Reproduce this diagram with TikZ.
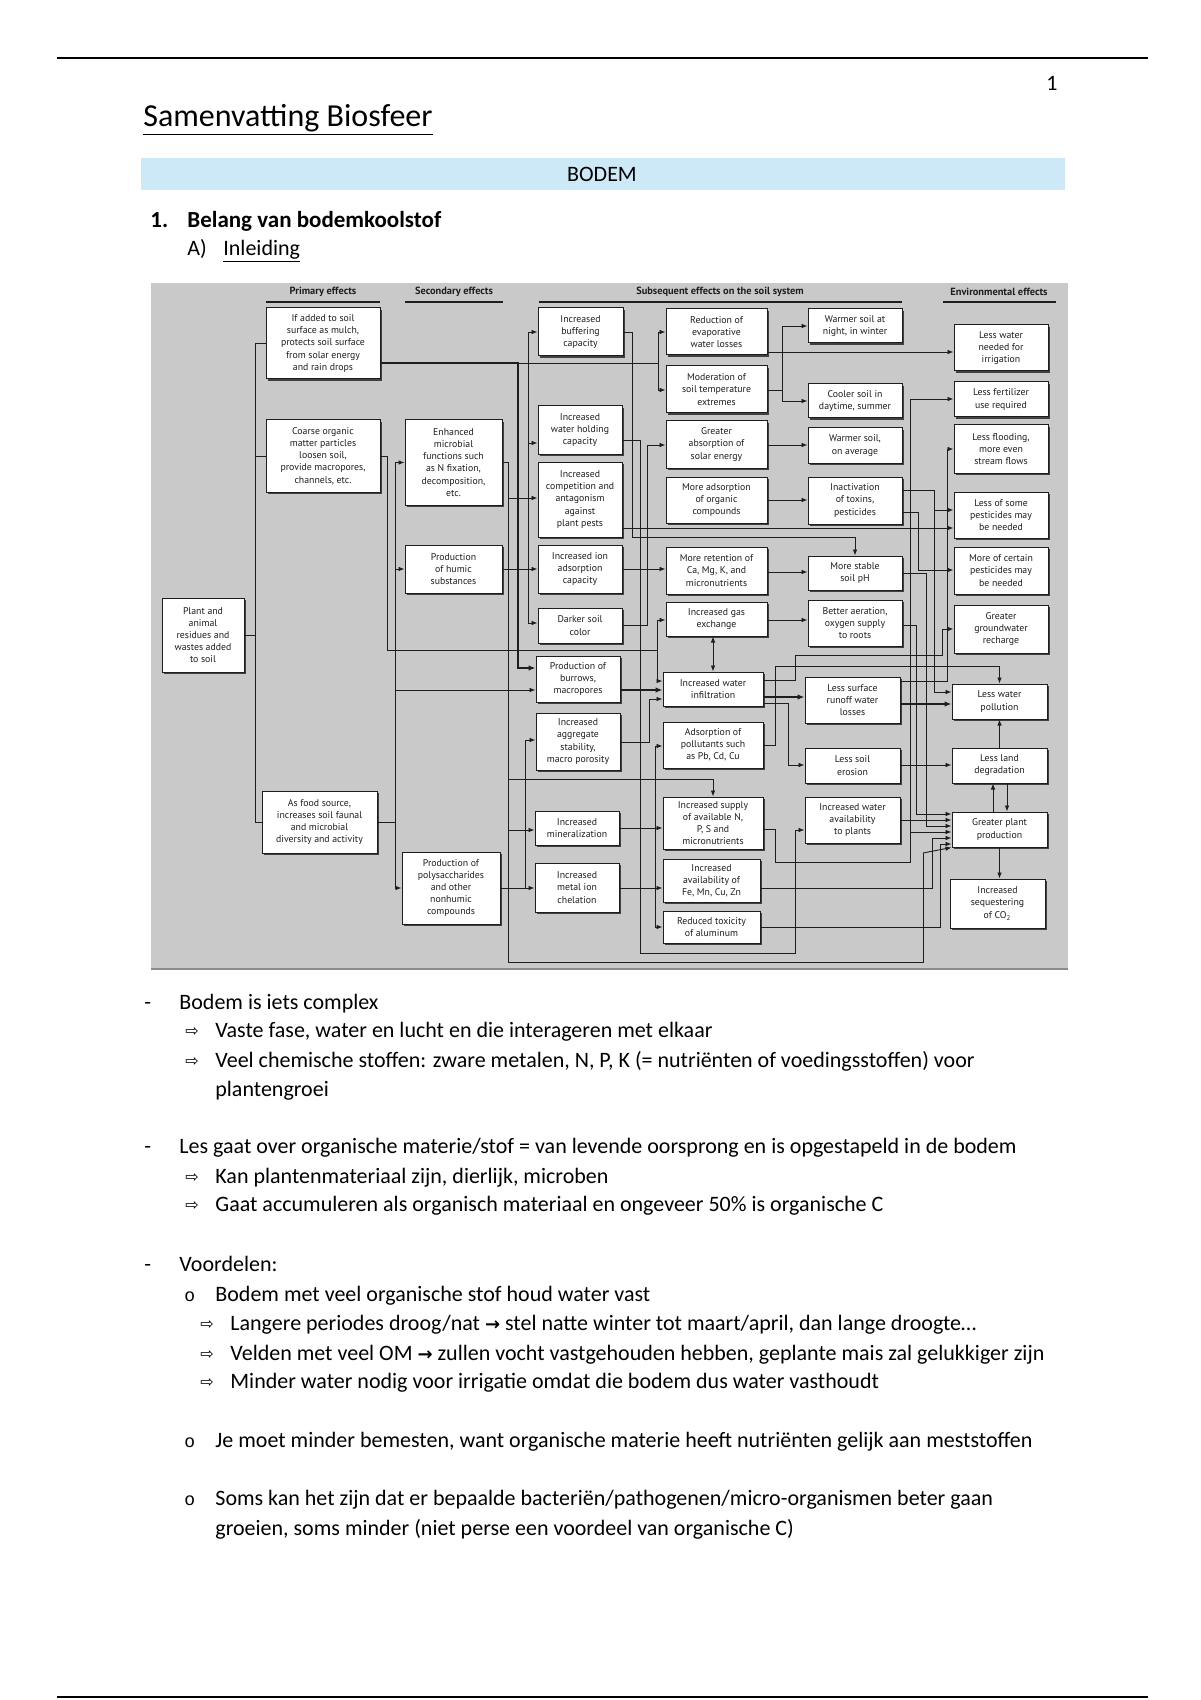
\documentclass[tikz,border=0pt]{standalone}
\usepackage{fontspec}
\setmainfont{Carlito}
\newfontfamily\dg{PT Sans}
\newfontfamily\sym{DejaVu Sans}
\newfontfamily\monof{Liberation Mono}
\usetikzlibrary{arrows.meta,shadows}
\definecolor{bandblue}{RGB}{205,233,247}
\definecolor{diagbg}{RGB}{201,201,201}
\definecolor{ink}{RGB}{30,30,30}
\tikzset{
  box/.style={draw=ink, line width=0.5pt, fill=white, inner sep=0pt, align=center,
    font=\dg\fontsize{4.9}{6.1}\selectfont, text=ink,
    drop shadow={shadow xshift=1.1pt, shadow yshift=-1.1pt, fill=black!75, opacity=1}},
  conn/.style={draw=ink, line width=0.45pt},
  arr/.style={conn, -{Latex[length=3pt,width=2.3pt]}},
  darr/.style={conn, {Latex[length=3pt,width=2.3pt]}-{Latex[length=3pt,width=2.3pt]}},
  thk/.style={draw=ink, line width=1.1pt},
  thkarr/.style={thk, -{Latex[length=3.5pt,width=2.8pt]}},
  hdr/.style={font=\dg\bfseries\fontsize{5.2}{6}\selectfont, text=ink, inner sep=0pt},
  body/.style={anchor=west, font=\fontsize{11}{13}\selectfont, inner sep=0pt, text height=7.5pt, text depth=2.2pt},
  bul/.style={anchor=west, font=\sym\fontsize{8}{10}\selectfont, inner sep=0pt}
}
\newcommand\mybox[6]{\node[box, minimum width={(#4-#2)*0.5pt}, minimum height={(#5-#3)*0.5pt}] (#1) at ({(#2+#4)/2},{(#3+#5)/2}) {#6};}
\begin{document}
\begin{tikzpicture}[x=0.5pt,y=-0.5pt]
\useasboundingbox (0,0) rectangle (1200,1700);
\fill[white] (0,0) rectangle (1200,1700);
% page header
\draw[line width=0.9pt] (57,58) -- (1148,58);
\draw[line width=0.9pt] (57,1697) -- (1148,1697);
\node[font=\fontsize{11}{13}\selectfont] (pnum) at (1052,83) {1};
\node[anchor=west, inner sep=0pt, font=\fontsize{16}{19}\selectfont] (title) at (143,120) {\underline{Samenvatting Biosfeer}};
\fill[bandblue] (141,158) rectangle (1065,190);
\node[font=\fontsize{11}{13}\selectfont] (bodem) at (602,174) {BODEM};
\node[body, font=\bfseries\fontsize{11.5}{13}\selectfont] (h1n) at (150,222) {1.};
\node[body, font=\bfseries\fontsize{11.5}{13}\selectfont] (h1) at (187,222) {Belang van bodemkoolstof};
\node[body] (h2n) at (187,250) {A)};
\node[body] (h2) at (223,250) {\underline{Inleiding}};

% diagram background
\fill[diagbg] (151,283) rectangle (1068,969);
\draw[black!45, line width=1pt] (151,969) -- (1068,969);

% headers
\node[hdr] (hp) at (323,292) {Primary effects};
\draw[ink, line width=0.8pt] (266,302) -- (380,302);
\node[hdr] (hs) at (454,292) {Secondary effects};
\draw[ink, line width=0.8pt] (405,302) -- (503,302);
\node[hdr] (hq) at (720,292) {Subsequent effects on the soil system};
\draw[ink, line width=0.8pt] (539,302) -- (902,302);
\node[hdr] (he) at (999,292) {Environmental effects};
\draw[ink, line width=0.8pt] (943,302) -- (1056,302);

% boxes: left
\mybox{plant}{162}{598}{244}{672}{Plant and\\animal\\residues and\\wastes added\\to soil}
\mybox{mulch}{266}{308}{380}{379}{If added to soil\\surface as mulch,\\protects soil surface\\from solar energy\\and rain drops}
\mybox{coarse}{266}{420}{380}{492}{Coarse organic\\matter particles\\loosen soil,\\provide macropores,\\channels, etc.}
\mybox{food}{262}{791}{377}{853}{As food source,\\increases soil faunal\\and microbial\\diversity and activity}
\mybox{micro}{405}{420}{502}{505}{Enhanced\\microbial\\functions such\\as N fixation,\\decomposition,\\etc.}
\mybox{humic}{405}{545}{502}{593}{Production\\of humic\\substances}
\mybox{poly}{402}{852}{500}{924}{Production of\\polysaccharides\\and other\\nonhumic\\compounds}
% column 1
\mybox{buf}{538}{308}{623}{356}{Increased\\buffering\\capacity}
\mybox{whc}{538}{406}{622}{454}{Increased\\water holding\\capacity}
\mybox{comp}{538}{462}{622}{537}{Increased\\competition and\\antagonism\\against\\plant pests}
\mybox{ion}{538}{545}{622}{593}{Increased ion\\adsorption\\capacity}
\mybox{dark}{538}{608}{622}{643}{Darker soil\\color}
\mybox{burrow}{536}{656}{620}{702}{Production of\\burrows,\\macropores}
\mybox{aggr}{536}{713}{620}{770}{Increased\\aggregate\\stability,\\macro porosity}
\mybox{miner}{535}{811}{619}{845}{Increased\\mineralization}
\mybox{chel}{535}{863}{619}{912}{Increased\\metal ion\\chelation}
% column 2
\mybox{evap}{666}{309}{767}{355}{Reduction of\\evaporative\\water losses}
\mybox{modt}{666}{366}{767}{413}{Moderation of\\soil temperature\\extremes}
\mybox{solar}{666}{421}{767}{468}{Greater\\absorption of\\solar energy}
\mybox{orgads}{666}{477}{767}{523}{More adsorption\\of organic\\compounds}
\mybox{retain}{666}{547}{767}{594}{More retention of\\Ca, Mg, K, and\\micronutrients}
\mybox{gas}{666}{602}{767}{636}{Increased gas\\exchange}
\mybox{infil}{663}{672}{763}{706}{Increased water\\infiltration}
\mybox{pollads}{663}{722}{763}{768}{Adsorption of\\pollutants such\\as Pb, Cd, Cu}
\mybox{supply}{663}{797}{763}{849}{Increased supply\\of available N,\\P, S and\\micronutrients}
\mybox{avail}{663}{859}{760}{902}{Increased\\availability of\\Fe, Mn, Cu, Zn}
\mybox{altox}{663}{911}{760}{943}{Reduced toxicity\\of aluminum}
% column 3
\mybox{warmn}{808}{309}{902}{343}{Warmer soil at\\night, in winter}
\mybox{cool}{808}{384}{902}{418}{Cooler soil in\\daytime, summer}
\mybox{warma}{808}{428}{902}{463}{Warmer soil,\\on average}
\mybox{inact}{808}{477}{902}{524}{Inactivation\\of toxins,\\pesticides}
\mybox{ph}{808}{556}{902}{590}{More stable\\soil pH}
\mybox{aer}{808}{600}{902}{646}{Better aeration,\\oxygen supply\\to roots}
\mybox{runoff}{805}{677}{900}{723}{Less surface\\runoff water\\losses}
\mybox{eros}{805}{748}{900}{783}{Less soil\\erosion}
\mybox{wavail}{805}{797}{900}{843}{Increased water\\availability\\to plants}
% environmental
\mybox{irrig}{954}{325}{1048}{371}{Less water\\needed for\\irrigation}
\mybox{fert}{954}{382}{1048}{417}{Less fertilizer\\use required}
\mybox{flood}{954}{425}{1048}{473}{Less flooding,\\more even\\stream flows}
\mybox{lesspest}{954}{492}{1048}{538}{Less of some\\pesticides may\\be needed}
\mybox{morepest}{954}{547}{1048}{594}{More of certain\\pesticides may\\be needed}
\mybox{gw}{954}{605}{1048}{653}{Greater\\groundwater\\recharge}
\mybox{lwp}{952}{684}{1047}{719}{Less water\\pollution}
\mybox{lld}{952}{748}{1047}{783}{Less land\\degradation}
\mybox{gpp}{952}{812}{1047}{847}{Greater plant\\production}
\mybox{co2}{950}{879}{1045}{928}{Increased\\sequestering\\of CO\textsubscript{2}}

% ---- connectors: primary
\draw[conn] (mulch.west) -- (255,343.5) |- (food.west);
\draw[conn] (coarse.west) -- (255,456);
\draw[conn] (plant.east) -- (255,635);
\draw[thkarr] (mulch.east |- 0,363) -- (518,363) |- (burrow.west |- 0,668);
\draw[conn] (518,363) -- (658,363);
\draw[conn] (658,332) -- (658,390);
\draw[arr] (658,332) -- (evap.west |- 0,332);
\draw[arr] (658,390) -- (modt.west |- 0,390);
\draw[conn] (coarse.east) -- (387,456) -- (387,650) -- (657,650);
\draw[conn] (657,620) -- (657,681);
\draw[arr] (657,620) -- (gas.west |- 0,620);
\draw[arr] (657,681) -- (infil.west |- 0,681);
% secondary
\draw[conn] (395,462.5) -- (395,888);
\draw[arr] (395,462.5) -- (micro.west);
\draw[arr] (395,569) -- (humic.west);
\draw[arr] (395,888) -- (poly.west);
\draw[conn] (food.east) -- (395,822);
\draw[arr] (395,690) -- (burrow.west |- 0,690);
% microbial outputs
\draw[conn] (micro.east) -- (508,462.5) -- (508,962) -- (923,962) -- (923,853);
\draw[arr] (923,853) -- (gpp.south west);
\draw[arr] (508,498) -- (comp.west |- 0,498);
\draw[conn] (508,779) -- (713,779);
\draw[arr] (713,779) -- (supply.north);
\draw[arr] (508,830) -- (miner.west |- 0,830);
% humic outputs
\draw[arr] (humic.east) -- (ion.west |- 0,569);
\draw[conn] (528,332) -- (528,623);
\draw[arr] (528,332) -- (buf.west |- 0,332);
\draw[arr] (528,443) -- (whc.west |- 0,443);
\draw[arr] (528,623) -- (dark.west |- 0,623);
% polysaccharide outputs
\draw[arr] (poly.east) -- (chel.west |- 0,888);
\draw[conn] (525,888) -- (525,740);
\draw[arr] (525,740) -- (aggr.west |- 0,740);
% column 1 outputs
\draw[conn] (buf.east |- 0,332) -- (632,332) -- (632,537) -- (855,537);
\draw[arr] (855,537) -- (ph.north);
\draw[arr] (comp.east |- 0,528) -- (lesspest.west |- 0,528);
\draw[conn] (whc.east |- 0,440) -- (640,440) -- (640,953) -- (795,953) -- (795,830);
\draw[arr] (795,830) -- (wavail.west |- 0,830);
\draw[arr] (ion.east |- 0,569) -- (retain.west |- 0,569);
\draw[conn] (dark.east |- 0,625) -- (647,625) -- (647,445);
\draw[arr] (647,445) -- (solar.west |- 0,445);
\draw[thkarr] (burrow.east |- 0,690) -- (infil.west |- 0,690);
\draw[conn] (aggr.east |- 0,742) -- (649,742) -- (649,699);
\draw[arr] (649,699) -- (infil.west |- 0,699);
\draw[arr] (miner.east |- 0,828) -- (supply.west |- 0,828);
\draw[arr] (chel.east |- 0,888) -- (avail.west |- 0,888);
\draw[conn] (655,746) -- (655,927);
\draw[arr] (655,746) -- (pollads.west |- 0,746);
\draw[arr] (655,927) -- (altox.west |- 0,927);
% column 2 outputs
\draw[arr] (evap.east |- 0,352) -- (irrig.west |- 0,352);
\draw[conn] (modt.east |- 0,390) -- (782,390);
\draw[conn] (782,326) -- (782,401);
\draw[arr] (782,326) -- (warmn.west);
\draw[arr] (782,401) -- (cool.west);
\draw[arr] (solar.east |- 0,445) -- (warma.west |- 0,445);
\draw[arr] (orgads.east) -- (inact.west |- 0,500);
\draw[arr] (retain.east |- 0,572) -- (ph.west |- 0,572);
\draw[arr] (gas.east |- 0,620) -- (aer.west |- 0,620);
\draw[darr] (gas.south -| infil.north) -- (infil.north);
\draw[thkarr] (infil.east |- 0,697) -- (runoff.west |- 0,697);
\draw[conn] (infil.east |- 0,680) -- (795,680) -- (795,655) -- (942,655) -- (942,629);
\draw[arr] (942,629) -- (gw.west |- 0,629);
\draw[conn] (infil.east |- 0,703) -- (788,703) -- (788,765);
\draw[arr] (788,765) -- (eros.west |- 0,765);
\draw[conn] (pollads.east |- 0,745) -- (775,745) -- (775,666) -- (999.5,666);
\draw[arr] (999.5,666) -- (lwp.north);
\draw[conn] (supply.east |- 0,829) -- (775,829) -- (775,862) -- (910,862) -- (910,399);
\draw[arr] (910,399) -- (fert.west |- 0,399);
\draw[arr] (910,832) -- (gpp.west |- 0,832);
\draw[conn] (avail.east |- 0,888) -- (932,888) -- (932,838);
\draw[arr] (932,838) -- (gpp.west |- 0,838);
\draw[conn] (altox.east |- 0,927) -- (940,927) -- (940,844);
\draw[arr] (940,844) -- (gpp.west |- 0,844);
% column 3 outputs
\draw[conn] (aer.east |- 0,625) -- (916,625) -- (916,814);
\draw[arr] (916,814) -- (gpp.west |- 0,814);
\draw[arr] (wavail.east |- 0,820) -- (gpp.west |- 0,820);
\draw[conn] (ph.east |- 0,573) -- (926,573) -- (926,826);
\draw[arr] (926,826) -- (gpp.west |- 0,826);
\draw[conn] (inact.east |- 0,490) -- (934,490) -- (934,692);
\draw[arr] (934,510) -- (lesspest.west |- 0,510);
\draw[arr] (934,692) -- (lwp.west |- 0,692);
\draw[conn] (inact.east |- 0,512) -- (918,512) -- (918,570);
\draw[arr] (918,570) -- (morepest.west |- 0,570);
\draw[thkarr] (runoff.east |- 0,704) -- (lwp.west |- 0,704);
\draw[conn] (runoff.east |- 0,681) -- (947,681) -- (947,449);
\draw[arr] (947,449) -- (flood.west |- 0,449);
\draw[arr] (eros.east |- 0,765) -- (lld.west |- 0,765);
% environmental links
\draw[arr] (lld.north) -- (lwp.south);
\draw[arr] (gpp.north -| 993,0) -- (lld.south -| 993,0);
\draw[arr] (lld.south -| 1007,0) -- (gpp.north -| 1007,0);
\draw[arr] (gpp.south) -- (gpp.south |- co2.north);

% ---- body text
\node[body] (d1) at (144,1004) {-};
\node[body] (t1) at (179,1004) {Bodem is iets complex};
\node[bul] (a1) at (185,1032) {⇨};
\node[body] (t2) at (215,1032) {Vaste fase, water en lucht en die interageren met elkaar};
\node[bul] (a2) at (185,1062) {⇨};
\node[body] (t3) at (215,1062) {Veel chemische stoffen: zware metalen, N, P, K (= nutriënten of voedingsstoffen) voor};
\node[body] (t4) at (215,1091) {plantengroei};
\node[body] (d2) at (144,1148) {-};
\node[body] (t5) at (179,1148) {Les gaat over organische materie/stof = van levende oorsprong en is opgestapeld in de bodem};
\node[bul] (a3) at (185,1178) {⇨};
\node[body] (t6) at (215,1178) {Kan plantenmateriaal zijn, dierlijk, microben};
\node[bul] (a4) at (185,1206) {⇨};
\node[body] (t7) at (215,1206) {Gaat accumuleren als organisch materiaal en ongeveer 50\% is organische C};
\node[body] (d3) at (144,1266) {-};
\node[body] (t8) at (179,1266) {Voordelen:};
\node[body, font=\monof\fontsize{9}{11}\selectfont] (o1) at (184,1296) {o};
\node[body] (t9) at (215,1296) {Bodem met veel organische stof houd water vast};
\node[bul] (a5) at (200,1325) {⇨};
\node[body] (t10) at (230,1325) {Langere periodes droog/nat {\sym\bfseries\fontsize{9}{11}\selectfont →} stel natte winter tot maart/april, dan lange droogte…};
\node[bul] (a6) at (200,1355) {⇨};
\node[body] (t11) at (230,1355) {Velden met veel OM {\sym\bfseries\fontsize{9}{11}\selectfont →} zullen vocht vastgehouden hebben, geplante mais zal gelukkiger zijn};
\node[bul] (a7) at (200,1383) {⇨};
\node[body] (t12) at (230,1383) {Minder water nodig voor irrigatie omdat die bodem dus water vasthoudt};
\node[body, font=\monof\fontsize{9}{11}\selectfont] (o2) at (184,1442) {o};
\node[body] (t13) at (215,1442) {Je moet minder bemesten, want organische materie heeft nutriënten gelijk aan meststoffen};
\node[body, font=\monof\fontsize{9}{11}\selectfont] (o3) at (184,1500) {o};
\node[body] (t14) at (215,1500) {Soms kan het zijn dat er bepaalde bacteriën/pathogenen/micro-organismen beter gaan};
\node[body] (t15) at (215,1530) {groeien, soms minder (niet perse een voordeel van organische C)};
\end{tikzpicture}
\end{document}
